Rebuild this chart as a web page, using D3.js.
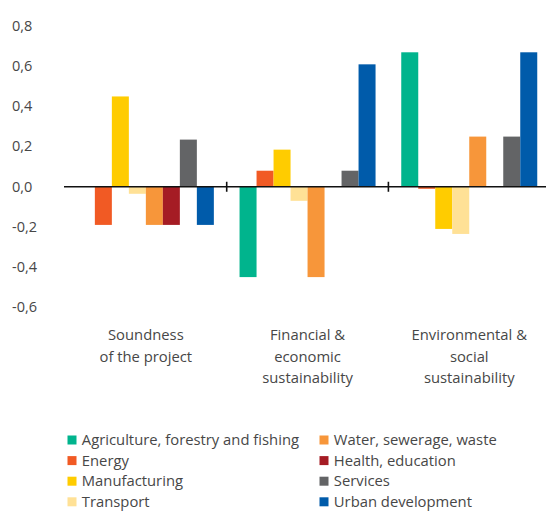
<!DOCTYPE html>
<html>
<head>
<meta charset="utf-8">
<script src="https://cdn.jsdelivr.net/npm/d3@7/dist/d3.min.js"></script>
<style>
  html, body { margin: 0; padding: 0; background: #fff; }
  svg { display: block; font-family: "Open Sans", "Noto Sans", sans-serif; }
</style>
</head>
<body>
<svg id="chart" width="546" height="512"></svg>
<script>
// ---- data ----
const categories = ["Soundness of the project", "Financial & economic sustainability", "Environmental & social sustainability"];
const categoryLines = [
  ["Soundness", "of the project"],
  ["Financial &", "economic", "sustainability"],
  ["Environmental &", "social", "sustainability"]
];
const seriesNames = [
  "Agriculture, forestry and fishing",
  "Energy",
  "Manufacturing",
  "Transport",
  "Water, sewerage, waste",
  "Health, education",
  "Services",
  "Urban development"
];
const seriesColors = ["#00b48d", "#f15a24", "#ffcc00", "#ffe196", "#f7963a", "#a51c24", "#636466", "#005baa"];

const agriculture   = [0,     -0.45,  0.67];
const energy        = [-0.19,  0.08, -0.01];
const manufacturing = [0.45,   0.185, -0.21];
const transport     = [-0.035, -0.07, -0.235];
const water         = [-0.19, -0.45,  0.25];
const health        = [-0.19,  0,     0];
const services      = [0.235,  0.08,  0.25];
const urban         = [-0.19,  0.61,  0.67];
const seriesValues = [agriculture, energy, manufacturing, transport, water, health, services, urban];

const yTicks = [-0.6, -0.4, -0.2, 0, 0.2, 0.4, 0.6, 0.8];

// ---- chart ----
const svg = d3.select("#chart");
const textColor = "#474747";

const x0 = d3.scaleBand().domain(categories).range([65, 550.1]).paddingInner(0).paddingOuter(0);
const x1 = d3.scaleBand().domain(seriesNames).range([12.85, x0.bandwidth() - 12.85]).padding(0);
const y = d3.scaleLinear().domain([-0.6, 0.8]).range([307.2, 26.2]);

// y axis labels
const yAxis = d3.axisLeft(y).tickValues(yTicks).tickSize(0)
  .tickFormat(d => d3.format(".1f")(d).replace(".", ",").replace("−", "-"));
const gy = svg.append("g").call(yAxis);
gy.select(".domain").remove();
gy.selectAll("text")
  .attr("x", 12).attr("dy", "0.3em")
  .attr("text-anchor", "start")
  .style("font-family", "'Open Sans', sans-serif")
  .style("font-size", "14.5px")
  .style("fill", textColor);

// bars
const rows = [];
seriesNames.forEach((s, si) => {
  categories.forEach((c, ci) => {
    const v = seriesValues[si][ci];
    if (v !== 0 && v != null) rows.push({ series: s, cat: c, value: v, color: seriesColors[si] });
  });
});

svg.append("g").selectAll("rect").data(rows).join("rect")
  .attr("x", d => x0(d.cat) + x1(d.series))
  .attr("width", x1.bandwidth())
  .attr("y", d => y(Math.max(0, d.value)))
  .attr("height", d => Math.abs(y(d.value) - y(0)))
  .attr("fill", d => d.color);

// zero axis line with separator ticks
const gx = svg.append("g").attr("transform", `translate(0,${y(0)})`);
gx.append("line")
  .attr("x1", 64).attr("x2", 546)
  .attr("y1", 0).attr("y2", 0)
  .attr("stroke", "#111").attr("stroke-width", 1.6);
gx.selectAll("line.sep").data(categories.slice(1)).join("line")
  .attr("class", "sep")
  .attr("x1", d => x0(d)).attr("x2", d => x0(d))
  .attr("y1", -5).attr("y2", 5)
  .attr("stroke", "#111").attr("stroke-width", 1.6);

// category labels
const gl = svg.append("g");
categories.forEach((c, ci) => {
  const cx = x0(c) + x0.bandwidth() / 2;
  const t = gl.append("text")
    .attr("text-anchor", "middle")
    .style("font-size", "14.8px")
    .style("fill", textColor);
  categoryLines[ci].forEach((line, li) => {
    t.append("tspan")
      .attr("x", cx)
      .attr("y", 340 + li * 21.7)
      .text(line);
  });
});

// legend
const legend = svg.append("g");
seriesNames.forEach((s, i) => {
  const col = Math.floor(i / 4), row = i % 4;
  const lx = col === 0 ? 67.5 : 319.5;
  const ly = 440 + row * 20.6;
  const g = legend.append("g").attr("transform", `translate(${lx},${ly})`);
  g.append("rect").attr("x", 0).attr("y", -4.5).attr("width", 9).attr("height", 9).attr("fill", seriesColors[i]);
  g.append("text").attr("x", 14.3).attr("y", 0).attr("dy", "0.35em")
    .style("font-size", "14.8px").style("fill", textColor).text(s);
});
</script>
</body>
</html>
